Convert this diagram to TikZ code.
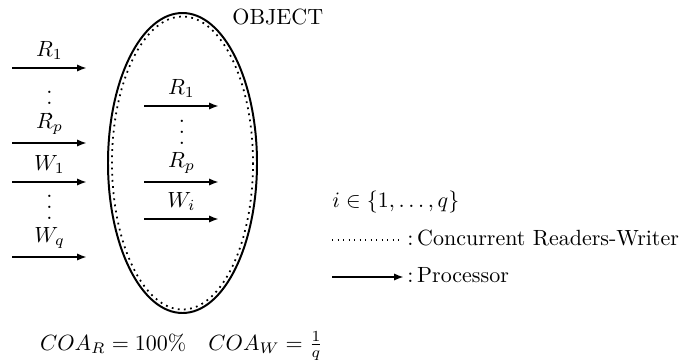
\documentclass[tikz,border=0pt]{standalone}
\usetikzlibrary{arrows.meta}
\newcommand\myvdots{\vbox{\baselineskip5.1pt\lineskiplimit0pt\hbox{.}\hbox{.}\hbox{.}}}
\begin{document}
\begin{tikzpicture}[x=0.4545pt,y=-0.4545pt,
  proc/.style={-{Latex[length=4.5pt,width=3.3pt]}, line width=0.9pt},
  lbl/.style={inner sep=0pt},
  above label/.style={anchor=south, inner sep=3.33pt},
  conc/.style={dotted, line width=0.8pt}]
\useasboundingbox (0,0) rectangle (692,360);
% object
\draw[line width=0.9pt] (182.5,163) ellipse [x radius=74.5, y radius=150];
\draw[conc] (182.5,163) ellipse [x radius=70.5, y radius=146.5];
\node[anchor=base west,lbl] (obj) at (232,24) {OBJECT};
% left processors
\coordinate (la1) at (12,68);  \coordinate (lb1) at (87,68);
\coordinate (la2) at (12,143); \coordinate (lb2) at (87,143);
\coordinate (la3) at (12,182); \coordinate (lb3) at (87,182);
\coordinate (la4) at (12,257); \coordinate (lb4) at (87,257);
\draw[proc] (la1) -- node[above label] (lR1) {$R_1$} (lb1);
\draw[proc] (la2) -- node[above label] (lRp) {$R_p$} (lb2);
\draw[proc] (la3) -- node[above label] (lW1) {$W_1$} (lb3);
\draw[proc] (la4) -- node[above label] (lWq) {$W_q$} (lb4);
\node[anchor=base,lbl] (ld1) at (49.5,115.5) {\myvdots};
\node[anchor=base,lbl] (ld2) at (49.5,219.5) {\myvdots};
% inner processors
\coordinate (ia1) at (144,106); \coordinate (ib1) at (219,106);
\coordinate (ia2) at (144,182); \coordinate (ib2) at (219,182);
\coordinate (ia3) at (144,219); \coordinate (ib3) at (219,219);
\draw[proc] (ia1) -- node[above label] (iR1) {$R_1$} (ib1);
\draw[proc] (ia2) -- node[above label] (iRp) {$R_p$} (ib2);
\draw[proc] (ia3) -- node[above label] (iWi) {$W_i$} (ib3);
\node[anchor=base,lbl] (id1) at (182,144.5) {\myvdots};
% legend
\node[anchor=base west,lbl] (set) at (332,207) {$i\in\{1,\ldots,q\}$};
\coordinate (da) at (332,240); \coordinate (db) at (403,240);
\draw[dotted, line width=0.5pt] (da) -- (db);
\node[anchor=base west,lbl] (cl) at (407,245) {:\,Concurrent Readers-Writer};
\coordinate (pa) at (332,277); \coordinate (pb) at (404,277);
\draw[proc] (pa) -- (pb);
\node[anchor=base west,lbl] (pl) at (407,282) {:\,Processor};
% formula
\node[anchor=base,lbl] (coa) at (181.5,350) {$COA_R=100\%\quad COA_W=\frac{1}{q}$};
\end{tikzpicture}
\end{document}
